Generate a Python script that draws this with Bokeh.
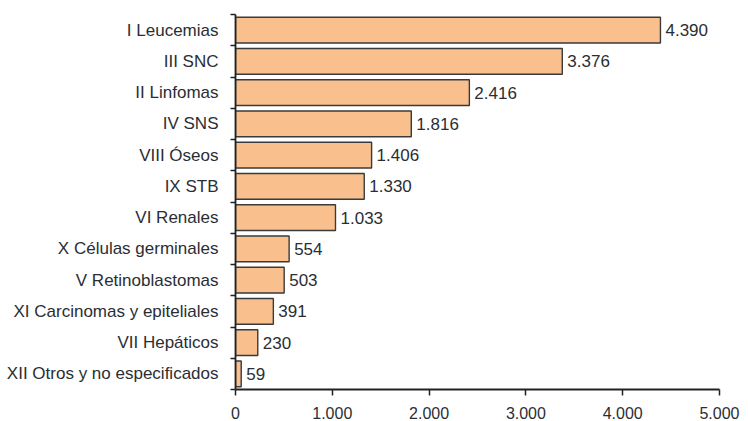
from bokeh.plotting import figure
from bokeh.models import FixedTicker, ColumnDataSource
from bokeh.core.properties import value
from bokeh.embed import file_html
from bokeh.resources import INLINE

# Tumour groups, top to bottom, with case counts
categories = [
    "I Leucemias", "III SNC", "II Linfomas", "IV SNS", "VIII Óseos", "IX STB",
    "VI Renales", "X Células germinales", "V Retinoblastomas",
    "XI Carcinomas y epiteliales", "VII Hepáticos", "XII Otros y no especificados",
]
cases = [4390, 3376, 2416, 1816, 1406, 1330, 1033, 554, 503, 391, 230, 59]
x_ticks = [0, 1000, 2000, 3000, 4000, 5000]

FONT = "Liberation Sans"
TEXT = "#2a2e34"
AXIS = "#222222"

n = len(categories)
ypos = [n - 1 - i for i in range(n)]


def es_thousands(v):
    return f"{v:,}".replace(",", ".")


src = ColumnDataSource(dict(
    y=ypos, v=cases, lbl=[es_thousands(v) for v in cases],
))

p = figure(
    width=748, height=421, output_backend="svg", toolbar_location=None,
    x_range=(0, 5000), y_range=(-0.5, n - 0.5),
    min_border_left=235, min_border_right=29,
    min_border_top=14, min_border_bottom=32,
)
p.outline_line_color = None
p.xgrid.visible = False
p.ygrid.visible = False
p.background_fill_color = "white"
p.border_fill_color = "white"

p.hbar(y="y", right="v", left=0, height=0.82, source=src,
       fill_color="#F9C08E", line_color="#3a3a3a", line_width=1.4)

p.text(x="v", y="y", text="lbl", source=src, x_offset=5,
       text_align="left", text_baseline="middle",
       text_font=value(FONT), text_font_size="17px",
       text_color=TEXT)

# Category axis: labels at band centres, tick marks at band boundaries
ya = p.yaxis[0]
ya.ticker = FixedTicker(ticks=ypos, minor_ticks=[k - 0.5 for k in range(n + 1)])
ya.major_label_overrides = {float(y): c for y, c in zip(ypos, categories)}
ya.major_tick_out = 0
ya.major_tick_in = 0
ya.minor_tick_out = 5
ya.minor_tick_in = 0
ya.minor_tick_line_color = AXIS
ya.minor_tick_line_width = 1.5
ya.axis_line_color = AXIS
ya.axis_line_width = 1.8
ya.major_label_text_font = FONT
ya.major_label_text_font_size = "17px"
ya.major_label_text_color = TEXT
ya.major_label_standoff = 12

xa = p.xaxis[0]
xa.ticker = FixedTicker(ticks=x_ticks, minor_ticks=[])
xa.major_label_overrides = {float(t): es_thousands(t) for t in x_ticks}
xa.major_tick_out = 6
xa.major_tick_in = 0
xa.major_tick_line_color = AXIS
xa.major_tick_line_width = 1.5
xa.axis_line_color = AXIS
xa.axis_line_width = 1.8
xa.major_label_text_font = FONT
xa.major_label_text_font_size = "16px"
xa.major_label_text_color = TEXT
xa.major_label_standoff = 11

open("out.html", "w").write(file_html(p, INLINE))
